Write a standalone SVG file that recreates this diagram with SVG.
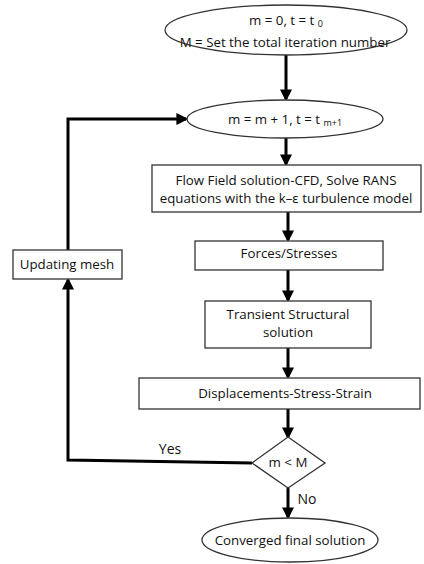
<svg xmlns="http://www.w3.org/2000/svg" width="424" height="564" viewBox="0 0 424 564">
<style>
.n{fill:#fff;stroke:#333;stroke-width:1.3}
.t{font-family:"Open Sans","Liberation Sans",sans-serif;font-size:13.3px;fill:#111;text-anchor:middle;dominant-baseline:central}
.s{font-size:9px}
.c{fill:none;stroke:#000;stroke-width:3}
</style>
<defs>
<marker id="ah" markerWidth="4" markerHeight="4" refX="3.2" refY="2" orient="auto" markerUnits="strokeWidth">
<path d="M0,0 L4,2 L0,4 Z" fill="#000"/>
</marker>
</defs>
<rect width="424" height="564" fill="#fff"/>
<g id="connectors">
<line class="c" x1="286" y1="55" x2="286" y2="99" marker-end="url(#ah)"/>
<line class="c" x1="286" y1="137" x2="286" y2="164" marker-end="url(#ah)"/>
<line class="c" x1="288" y1="212" x2="288" y2="240" marker-end="url(#ah)"/>
<line class="c" x1="288" y1="270" x2="288" y2="300" marker-end="url(#ah)"/>
<line class="c" x1="288" y1="348" x2="288" y2="377" marker-end="url(#ah)"/>
<line class="c" x1="288" y1="409" x2="288" y2="437" marker-end="url(#ah)"/>
<line class="c" x1="288" y1="488" x2="288" y2="517" marker-end="url(#ah)"/>
<polyline class="c" points="252,463 68,460 68,280" marker-end="url(#ah)"/>
<polyline class="c" points="68,250 68,119 186,119" marker-end="url(#ah)"/>
<text class="t" x="170" y="448" style="font-size:14px">Yes</text>
<text class="t" x="307" y="498" style="font-size:14px">No</text>
</g>
<g id="start">
<ellipse class="n" cx="286" cy="30" rx="121" ry="25"/>
<text class="t" x="286" y="20">m = 0, t = t <tspan class="s" dy="3">0</tspan></text>
<text class="t" x="285" y="42">M = Set the total iteration number</text>
</g>
<g id="increment">
<ellipse class="n" cx="285" cy="119" rx="98" ry="19"/>
<text class="t" x="285" y="119">m = m + 1, t =  t <tspan class="s" dy="3">m+1</tspan></text>
</g>
<g id="cfd">
<rect class="n" x="152" y="165" width="269" height="47"/>
<text class="t" x="286" y="180">Flow Field solution-CFD, Solve RANS</text>
<text class="t" x="286" y="198">equations with the k–ε turbulence model</text>
</g>
<g id="forces">
<rect class="n" x="195" y="241" width="188" height="29"/>
<text class="t" x="289" y="253">Forces/Stresses</text>
</g>
<g id="structural">
<rect class="n" x="205" y="301" width="166" height="47"/>
<text class="t" x="288" y="314">Transient Structural</text>
<text class="t" x="288" y="332">solution</text>
</g>
<g id="displacements">
<rect class="n" x="139" y="378" width="281" height="31"/>
<text class="t" x="285" y="393">Displacements-Stress-Strain</text>
</g>
<g id="decision">
<polygon class="n" points="288,437 325,463 288,488 252,463"/>
<text class="t" x="288" y="462">m &lt; M</text>
</g>
<g id="mesh">
<rect class="n" x="13" y="250" width="109" height="29"/>
<text class="t" x="67" y="264">Updating mesh</text>
</g>
<g id="end">
<ellipse class="n" cx="290" cy="540" rx="88" ry="22"/>
<text class="t" x="290" y="540">Converged final solution</text>
</g>
</svg>
